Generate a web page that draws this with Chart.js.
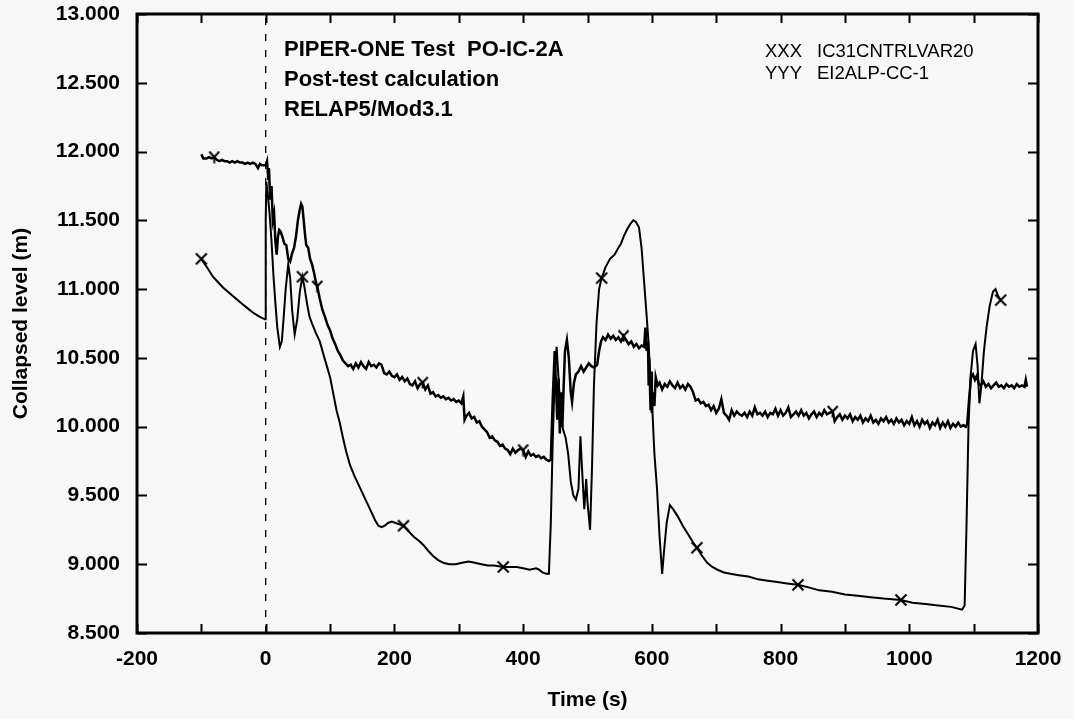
<!DOCTYPE html>
<html>
<head>
<meta charset="utf-8">
<title>PIPER-ONE PO-IC-2A collapsed level</title>
<script src="https://cdn.jsdelivr.net/npm/chart.js@4"></script>
<style>
  html, body { margin: 0; padding: 0; background: #f7f7f7; }
  #wrap { width: 1074px; height: 719px; }
</style>
</head>
<body>
<div id="wrap"><canvas id="levelChart" width="1074" height="719"></canvas></div>
<script>
// measured level EI2ALP-CC-1 [time s, level m]
const expLevel = [
  [-100, 11.98], [-97, 11.95], [-92, 11.95], [-88, 11.96], [-84, 11.95], [-80, 11.96], [-76, 11.94],
  [-72, 11.93], [-68, 11.94], [-64, 11.93], [-60, 11.93], [-56, 11.92], [-52, 11.93], [-48, 11.92],
  [-44, 11.93], [-40, 11.92], [-36, 11.92], [-32, 11.91], [-28, 11.92], [-24, 11.91], [-20, 11.92],
  [-16, 11.91], [-12, 11.88], [-9, 11.91], [-6, 11.90], [-3, 11.90], [0, 11.90], [2, 11.93],
  [4, 11.80], [5, 11.88], [7, 11.65], [9, 11.75], [11, 11.50], [13, 11.55], [15, 11.35], [17, 11.25],
  [19, 11.38], [21, 11.43], [23, 11.42], [26, 11.38], [29, 11.33], [32, 11.32], [35, 11.22],
  [38, 11.20], [41, 11.26], [44, 11.30], [47, 11.38], [50, 11.50], [53, 11.58], [55, 11.62],
  [57, 11.60], [59, 11.50], [61, 11.40], [63, 11.32], [66, 11.30], [69, 11.22], [72, 11.18],
  [75, 11.12], [78, 11.05], [80, 11.02], [84, 10.93], [88, 10.85], [92, 10.80], [96, 10.74],
  [100, 10.70], [104, 10.64], [108, 10.60], [112, 10.55], [116, 10.52], [120, 10.48], [124, 10.46],
  [128, 10.44], [132, 10.45], [136, 10.42], [140, 10.46], [144, 10.43], [148, 10.47], [152, 10.44],
  [156, 10.42], [160, 10.47], [164, 10.44], [168, 10.45], [172, 10.43], [176, 10.46], [180, 10.45],
  [184, 10.39], [188, 10.38], [192, 10.40], [196, 10.37], [200, 10.36], [204, 10.38], [208, 10.34],
  [212, 10.36], [216, 10.33], [220, 10.35], [224, 10.31], [228, 10.30], [232, 10.33], [236, 10.28],
  [240, 10.31], [244, 10.32], [248, 10.27], [252, 10.30], [256, 10.24], [260, 10.25], [264, 10.22],
  [268, 10.23], [272, 10.21], [276, 10.22], [280, 10.20], [284, 10.21], [288, 10.19], [292, 10.20],
  [296, 10.18], [300, 10.19], [304, 10.17], [307, 10.22], [309, 10.05], [312, 10.08], [316, 10.10],
  [320, 10.06], [324, 10.07], [328, 10.03], [332, 10.04], [336, 10.00], [340, 9.98], [344, 9.96],
  [348, 9.92], [352, 9.93], [356, 9.90], [360, 9.89], [364, 9.86], [368, 9.87], [372, 9.84],
  [376, 9.83], [380, 9.80], [384, 9.84], [388, 9.81], [392, 9.83], [396, 9.84], [400, 9.83],
  [404, 9.78], [408, 9.82], [412, 9.79], [416, 9.80], [420, 9.78], [424, 9.79], [428, 9.77],
  [432, 9.78], [436, 9.76], [440, 9.75], [443, 9.76], [446, 10.20], [449, 10.55], [451, 10.30],
  [453, 10.05], [455, 10.35], [457, 9.95], [459, 10.25], [461, 10.00], [463, 10.30], [465, 10.55],
  [468, 10.63], [471, 10.50], [474, 10.25], [476, 10.18], [479, 10.32], [482, 10.38], [486, 10.40],
  [490, 10.44], [494, 10.40], [498, 10.43], [502, 10.46], [506, 10.44], [510, 10.43], [515, 10.45],
  [518, 10.55], [521, 10.62], [524, 10.65], [528, 10.63], [532, 10.67], [536, 10.64], [540, 10.66],
  [544, 10.63], [548, 10.65], [552, 10.62], [556, 10.66], [560, 10.63], [564, 10.60], [568, 10.62],
  [572, 10.58], [576, 10.60], [580, 10.57], [584, 10.59], [588, 10.58], [590, 10.72], [592, 10.55],
  [594, 10.62], [595, 10.30], [596, 10.50], [598, 10.12], [599, 10.40], [600, 10.10], [602, 10.25],
  [604, 10.15], [606, 10.36], [609, 10.30], [612, 10.32], [616, 10.27], [620, 10.31], [624, 10.29],
  [628, 10.33], [632, 10.30], [636, 10.28], [640, 10.32], [644, 10.28], [648, 10.30], [652, 10.27],
  [656, 10.31], [660, 10.29], [664, 10.25], [668, 10.19], [672, 10.20], [676, 10.17], [680, 10.18],
  [684, 10.15], [688, 10.16], [692, 10.12], [696, 10.15], [700, 10.10], [704, 10.13], [708, 10.20],
  [712, 10.10], [716, 10.08], [720, 10.05], [724, 10.12], [728, 10.08], [732, 10.11], [736, 10.09],
  [740, 10.08], [744, 10.10], [748, 10.07], [752, 10.11], [756, 10.08], [760, 10.14], [764, 10.09],
  [768, 10.10], [772, 10.08], [776, 10.11], [780, 10.07], [784, 10.10], [788, 10.09], [792, 10.13],
  [796, 10.08], [800, 10.12], [804, 10.08], [808, 10.10], [812, 10.14], [816, 10.07], [820, 10.09],
  [824, 10.11], [828, 10.08], [832, 10.12], [836, 10.08], [840, 10.10], [844, 10.06], [848, 10.09],
  [852, 10.11], [856, 10.07], [860, 10.10], [864, 10.08], [868, 10.12], [872, 10.09], [876, 10.10],
  [881, 10.11], [884, 10.04], [888, 10.07], [892, 10.09], [896, 10.05], [900, 10.08], [904, 10.06],
  [908, 10.09], [912, 10.04], [916, 10.07], [920, 10.05], [924, 10.08], [928, 10.03], [932, 10.06],
  [936, 10.04], [940, 10.08], [944, 10.03], [948, 10.05], [952, 10.02], [956, 10.06], [960, 10.04],
  [964, 10.07], [968, 10.03], [972, 10.05], [976, 10.02], [980, 10.06], [984, 10.03], [988, 10.05],
  [992, 10.01], [996, 10.04], [1000, 10.02], [1004, 10.07], [1008, 10.01], [1012, 10.04], [1016, 10.00],
  [1020, 10.05], [1024, 10.02], [1028, 10.04], [1032, 9.99], [1036, 10.03], [1040, 10.01], [1044, 10.05],
  [1048, 9.99], [1052, 10.03], [1056, 10.00], [1060, 10.04], [1064, 9.99], [1068, 10.02], [1072, 10.00],
  [1076, 10.03], [1080, 10.00], [1084, 10.01], [1088, 10.00], [1090, 10.02], [1093, 10.20], [1096, 10.36],
  [1099, 10.38], [1102, 10.34], [1105, 10.37], [1108, 10.31], [1111, 10.30], [1115, 10.33], [1119, 10.29],
  [1123, 10.31], [1127, 10.28], [1131, 10.30], [1135, 10.32], [1139, 10.29], [1143, 10.30], [1147, 10.28],
  [1151, 10.31], [1155, 10.29], [1159, 10.30], [1163, 10.28], [1167, 10.31], [1171, 10.29], [1175, 10.30],
  [1179, 10.29], [1181, 10.34], [1183, 10.29]
];

// RELAP5 result IC31CNTRLVAR20 [time s, level m]
const calcLevel = [
  [-100, 11.22], [-96, 11.19], [-90, 11.15], [-82, 11.09], [-74, 11.05], [-66, 11.01], [-56, 10.97],
  [-46, 10.93], [-36, 10.89], [-28, 10.86], [-20, 10.83], [-10, 10.80], [-1, 10.78], [0, 11.50],
  [1, 11.78], [3, 11.70], [6, 11.55], [9, 11.35], [12, 11.10], [15, 10.90], [18, 10.72], [22, 10.58],
  [25, 10.62], [28, 10.80], [31, 11.00], [35, 11.18], [38, 11.08], [41, 10.85], [45, 10.67],
  [49, 10.78], [53, 10.98], [57, 11.09], [60, 11.02], [64, 10.90], [68, 10.80], [72, 10.75],
  [78, 10.68], [84, 10.62], [90, 10.52], [95, 10.44], [100, 10.36], [105, 10.24], [110, 10.12],
  [115, 10.03], [120, 9.92], [125, 9.82], [131, 9.72], [138, 9.64], [146, 9.56], [154, 9.48],
  [162, 9.40], [170, 9.32], [175, 9.28], [180, 9.27], [185, 9.28], [190, 9.30], [196, 9.31],
  [202, 9.30], [208, 9.29], [214, 9.28], [222, 9.24], [230, 9.20], [238, 9.17], [245, 9.14],
  [252, 9.10], [260, 9.06], [268, 9.03], [276, 9.01], [285, 9.00], [295, 9.00], [305, 9.01],
  [315, 9.02], [325, 9.01], [335, 9.00], [345, 8.99], [355, 8.99], [369, 8.98], [380, 8.98],
  [390, 8.98], [400, 8.97], [410, 8.96], [420, 8.97], [425, 8.96], [430, 8.94], [436, 8.93],
  [440, 8.93], [443, 9.30], [446, 9.90], [449, 10.35], [452, 10.58], [455, 10.35], [458, 10.10],
  [462, 9.98], [466, 9.92], [470, 9.80], [474, 9.60], [478, 9.50], [482, 9.47], [486, 9.55],
  [489, 9.93], [492, 9.65], [495, 9.40], [498, 9.62], [500, 9.45], [504, 9.25], [507, 9.70],
  [510, 10.30], [514, 10.75], [518, 11.00], [522, 11.08], [528, 11.16], [535, 11.22], [542, 11.25],
  [548, 11.30], [552, 11.33], [556, 11.38], [561, 11.43], [566, 11.47], [571, 11.50], [575, 11.49],
  [580, 11.45], [584, 11.30], [588, 11.05], [592, 10.80], [595, 10.60], [598, 10.30], [601, 10.10],
  [604, 9.80], [608, 9.55], [612, 9.20], [616, 8.93], [619, 9.10], [623, 9.30], [628, 9.43],
  [633, 9.40], [640, 9.35], [648, 9.28], [656, 9.22], [664, 9.16], [670, 9.12], [678, 9.06],
  [686, 9.01], [694, 8.98], [702, 8.96], [712, 8.94], [722, 8.93], [735, 8.92], [750, 8.91],
  [765, 8.89], [780, 8.88], [795, 8.87], [810, 8.86], [827, 8.85], [845, 8.83], [860, 8.81],
  [880, 8.80], [900, 8.78], [920, 8.77], [940, 8.76], [960, 8.75], [987, 8.74], [1005, 8.72],
  [1025, 8.71], [1045, 8.70], [1065, 8.69], [1082, 8.67], [1086, 8.70], [1089, 9.30], [1092, 10.00],
  [1095, 10.35], [1099, 10.55], [1103, 10.60], [1106, 10.45], [1109, 10.17], [1112, 10.30],
  [1116, 10.55], [1120, 10.72], [1125, 10.88], [1130, 10.98], [1134, 11.00], [1138, 10.95], [1142, 10.92]
];

// times where the curve symbols are printed
const calcMarkTimes = [-100, 57, 214, 369, 522, 670, 827, 987, 1142];
const expMarkTimes = [-80, 80, 244, 400, 556, 881];

// transient start
const startLine = [[0, 8.5], [0, 13]];

const xTickLabels = [-200, 0, 200, 400, 600, 800, 1000, 1200];
const yTickValues = [8.5, 9, 9.5, 10, 10.5, 11, 11.5, 12, 12.5, 13];

const headerLines = ['PIPER-ONE Test  PO-IC-2A', 'Post-test calculation', 'RELAP5/Mod3.1'];
const legendRows = [['XXX', 'IC31CNTRLVAR20'], ['YYY', 'EI2ALP-CC-1']];

const FONT = '"Liberation Sans", Arial, Helvetica, sans-serif';

function symbol(kind, size) {
  const c = document.createElement('canvas');
  c.width = size; c.height = size;
  const g = c.getContext('2d');
  g.strokeStyle = '#000';
  g.lineWidth = 2;
  g.beginPath();
  if (kind === 'x') {
    g.moveTo(1.5, 1.5); g.lineTo(size - 1.5, size - 1.5);
    g.moveTo(size - 1.5, 1.5); g.lineTo(1.5, size - 1.5);
  } else {
    const m = size / 2;
    g.moveTo(1.5, 1); g.lineTo(m, m);
    g.lineTo(size - 1.5, 1);
    g.moveTo(m, m); g.lineTo(m, size - 0.5);
  }
  g.stroke();
  return c;
}

const xSym = symbol('x', 14);
const ySym = symbol('y', 13);

const toXY = arr => arr.map(p => ({ x: p[0], y: p[1] }));

// frame, inward ticks on four sides, header and key text
const framePlugin = {
  id: 'frame',
  afterDraw(chart) {
    const { ctx, chartArea: a, scales } = chart;
    const xs = scales.x, ys = scales.y;
    ctx.save();
    ctx.strokeStyle = '#000';
    ctx.lineWidth = 2;
    ctx.beginPath();
    for (let t = -200; t <= 1200; t += 100) {
      const px = Math.round(xs.getPixelForValue(t)) + 0.5;
      ctx.moveTo(px, a.bottom); ctx.lineTo(px, a.bottom - 9);
      ctx.moveTo(px, a.top); ctx.lineTo(px, a.top + 9);
    }
    yTickValues.forEach(v => {
      const py = Math.round(ys.getPixelForValue(v)) + 0.5;
      ctx.moveTo(a.left, py); ctx.lineTo(a.left + 10, py);
      ctx.moveTo(a.right, py); ctx.lineTo(a.right - 10, py);
    });
    ctx.stroke();
    ctx.lineWidth = 3;
    ctx.strokeRect(a.left, a.top, a.right - a.left, a.bottom - a.top);

    ctx.fillStyle = '#000';
    ctx.textBaseline = 'middle';
    ctx.textAlign = 'left';
    ctx.font = 'bold 22px ' + FONT;
    headerLines.forEach((s, i) => ctx.fillText(s, a.left + 147, a.top + 36 + i * 30));
    ctx.font = '18.5px ' + FONT;
    legendRows.forEach((r, i) => {
      ctx.fillText(r[0], a.left + 628, a.top + 38 + i * 22);
      ctx.fillText(r[1], a.left + 680, a.top + 38 + i * 22);
    });
    ctx.restore();
  }
};

new Chart(document.getElementById('levelChart'), {
  type: 'line',
  data: {
    datasets: [
      {
        label: 'IC31CNTRLVAR20',
        data: toXY(calcLevel),
        borderColor: '#000',
        borderWidth: 2,
        pointStyle: xSym,
        pointRadius: c => calcMarkTimes.includes(c.raw.x) ? 7 : 0,
        tension: 0
      },
      {
        label: 'EI2ALP-CC-1',
        data: toXY(expLevel),
        borderColor: '#000',
        borderWidth: 2.5,
        pointStyle: ySym,
        pointRadius: c => expMarkTimes.includes(c.raw.x) ? 7 : 0,
        tension: 0
      },
      {
        label: 'start',
        data: toXY(startLine),
        borderColor: '#000',
        borderWidth: 1.3,
        borderDash: [7, 9],
        pointRadius: 0
      }
    ]
  },
  options: {
    responsive: false,
    animation: false,
    layout: { padding: { left: 0, right: 36, top: 14, bottom: 0 } },
    plugins: { legend: { display: false }, tooltip: { enabled: false } },
    scales: {
      x: {
        type: 'linear',
        min: -200,
        max: 1200,
        afterFit: s => { s.height = 86; s.paddingLeft = 0; s.paddingRight = 0; },
        afterBuildTicks: s => { s.ticks = xTickLabels.map(v => ({ value: v })); },
        grid: { display: false, drawTicks: false },
        border: { display: false },
        ticks: {
          padding: 14,
          color: '#000',
          font: { family: FONT, size: 21, weight: 'bold' },
          callback: v => String(v)
        },
        title: {
          display: true,
          text: 'Time (s)',
          color: '#000',
          font: { family: FONT, size: 21, weight: 'bold' },
          padding: { top: 0, bottom: 6 }
        }
      },
      y: {
        min: 8.5,
        max: 13,
        afterFit: s => { s.width = 137; s.paddingTop = 0; s.paddingBottom = 0; },
        afterBuildTicks: s => { s.ticks = yTickValues.map(v => ({ value: v })); },
        grid: { display: false, drawTicks: false },
        border: { display: false },
        ticks: {
          padding: 17,
          color: '#000',
          font: { family: FONT, size: 21, weight: 'bold' },
          callback: v => v.toFixed(3)
        },
        title: {
          display: true,
          text: 'Collapsed level (m)',
          color: '#000',
          font: { family: FONT, size: 21, weight: 'bold' },
          padding: { top: 9, bottom: 0 }
        }
      }
    }
  },
  plugins: [framePlugin]
});
</script>
</body>
</html>
